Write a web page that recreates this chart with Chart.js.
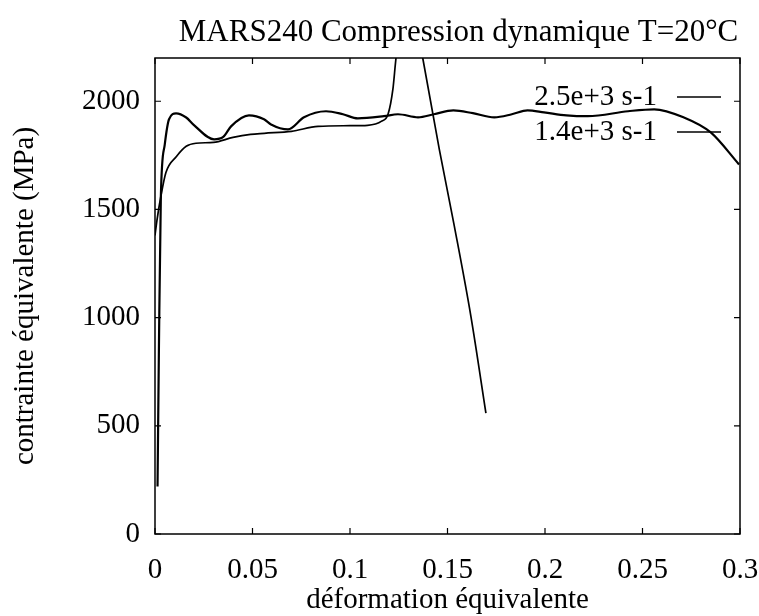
<!DOCTYPE html>
<html>
<head>
<meta charset="utf-8">
<script src="https://cdn.jsdelivr.net/npm/chart.js@4.4.0/dist/chart.umd.min.js"></script>
<style>
html,body{margin:0;padding:0;background:#fff;}
#wrap{width:759px;height:616px;position:relative;}
</style>
</head>
<body>
<div id="wrap"><canvas id="c"></canvas></div>
<script>
// ---- data ----
const seriesLabels = ['2.5e+3 s-1', '1.4e+3 s-1'];

const strainA = [0.0013, 0.002, 0.003, 0.005, 0.0072, 0.0108, 0.016, 0.020, 0.0303, 0.035, 0.039, 0.0482, 0.0559, 0.0595, 0.0682, 0.0764, 0.0877, 0.0964, 0.104, 0.1174, 0.1246, 0.1349, 0.143, 0.153, 0.163, 0.174, 0.183, 0.191, 0.1995, 0.211, 0.222, 0.2426, 0.256, 0.271, 0.285, 0.2995];
const stressA = [220, 850, 1560, 1800, 1917, 1944, 1925, 1890, 1824, 1835, 1884, 1935, 1917, 1893, 1870, 1926, 1954, 1940, 1921, 1931, 1940, 1926, 1940, 1958, 1945, 1926, 1940, 1958, 1949, 1935, 1931, 1954, 1963, 1926, 1856, 1708];

const strainB = [0, 0.001, 0.003, 0.0056, 0.011, 0.016, 0.021, 0.030, 0.040, 0.049, 0.056, 0.070, 0.0836, 0.100, 0.109, 0.113, 0.116, 0.1195, 0.122, 0.1236, 0.130, 0.1373, 0.1458, 0.1535, 0.162, 0.1697];
const stressB = [1380, 1450, 1560, 1671, 1745, 1792, 1806, 1810, 1833, 1847, 1852, 1861, 1884, 1887, 1889, 1895, 1907, 1940, 2056, 2200, 2590, 2200, 1778, 1423, 1006, 559];

const xTicks = [0, 0.05, 0.1, 0.15, 0.2, 0.25, 0.3];
const yTicks = [0, 500, 1000, 1500, 2000];
const xRange = [0, 0.3];
const yRange = [0, 2200];

const titleText = 'MARS240 Compression dynamique T=20°C';
const xTitle = 'déformation équivalente';
const yTitle = 'contrainte équivalente (MPa)';

// ---- chart ----
const FONT = 'Liberation Serif';
const pairs = (xs, ys) => xs.map((x, i) => ({x: x, y: ys[i]}));

const framePlugin = {
  id: 'frame',
  afterDraw(chart) {
    const {ctx, chartArea: a, scales} = chart;
    ctx.save();
    ctx.strokeStyle = '#000';
    ctx.lineWidth = 1.5;
    // box
    ctx.strokeRect(a.left, a.top, a.right - a.left, a.bottom - a.top);
    // inward ticks on all four sides
    const tl = 6;
    ctx.lineWidth = 1.2;
    ctx.beginPath();
    xTicks.forEach(v => {
      const px = scales.x.getPixelForValue(v);
      ctx.moveTo(px, a.bottom); ctx.lineTo(px, a.bottom - tl);
      ctx.moveTo(px, a.top); ctx.lineTo(px, a.top + tl);
    });
    yTicks.forEach(v => {
      const py = scales.y.getPixelForValue(v);
      ctx.moveTo(a.left, py); ctx.lineTo(a.left + tl, py);
      ctx.moveTo(a.right, py); ctx.lineTo(a.right - tl, py);
    });
    ctx.stroke();
    // title
    ctx.fillStyle = '#000';
    ctx.font = '31px "' + FONT + '"';
    ctx.textAlign = 'center';
    ctx.textBaseline = 'alphabetic';
    ctx.fillText(titleText, (a.left + a.right) / 2 + 11, 41);
    // legend (gnuplot style: text right-aligned, sample line to the right)
    ctx.font = '29px "' + FONT + '"';
    ctx.textAlign = 'right';
    ctx.textBaseline = 'middle';
    chart.data.datasets.forEach((ds, i) => {
      const y = a.top + 39 + i * 35;
      ctx.fillText(ds.label, a.right - 83, y);
      ctx.beginPath();
      ctx.lineWidth = 1.5;
      ctx.moveTo(a.right - 63, y);
      ctx.lineTo(a.right - 19, y);
      ctx.stroke();
    });
    ctx.restore();
  }
};

new Chart(document.getElementById('c'), {
  type: 'line',
  data: {
    datasets: [
      {label: seriesLabels[0], data: pairs(strainA, stressA), borderColor: '#000', borderWidth: 2.2, pointRadius: 0, cubicInterpolationMode: 'monotone', fill: false},
      {label: seriesLabels[1], data: pairs(strainB, stressB), borderColor: '#000', borderWidth: 1.7, pointRadius: 0, cubicInterpolationMode: 'monotone', fill: false}
    ]
  },
  options: {
    responsive: true,
    maintainAspectRatio: false,
    animation: false,
    devicePixelRatio: 1,
    layout: {padding: {left: 0, right: 19, top: 58, bottom: 0}},
    plugins: {legend: {display: false}, tooltip: {enabled: false}, title: {display: false}},
    scales: {
      x: {
        type: 'linear', min: xRange[0], max: xRange[1],
        afterBuildTicks: s => { s.ticks = xTicks.map(v => ({value: v})); },
        afterFit: s => { s.height = 82; s.paddingLeft = 0; s.paddingRight = 0; },
        grid: {display: false, drawTicks: false},
        border: {display: false},
        ticks: {color: '#000', font: {family: FONT, size: 29}, padding: 19, maxRotation: 0, autoSkip: false, callback: v => String(v)},
        title: {display: true, text: xTitle, color: '#000', font: {family: FONT, size: 29, lineHeight: 1.1}, padding: {top: 0, bottom: 0}}
      },
      y: {
        type: 'linear', min: yRange[0], max: yRange[1],
        afterBuildTicks: s => { s.ticks = yTicks.map(v => ({value: v})); },
        afterFit: s => { s.width = 155; s.paddingTop = 0; s.paddingBottom = 0; },
        grid: {display: false, drawTicks: false},
        border: {display: false},
        ticks: {color: '#000', font: {family: FONT, size: 29}, padding: 15, autoSkip: false, callback: v => String(v)},
        title: {display: true, text: yTitle, color: '#000', font: {family: FONT, size: 29, lineHeight: 1.1}, padding: {top: 9, bottom: 0}}
      }
    }
  },
  plugins: [framePlugin]
});
</script>
</body>
</html>
